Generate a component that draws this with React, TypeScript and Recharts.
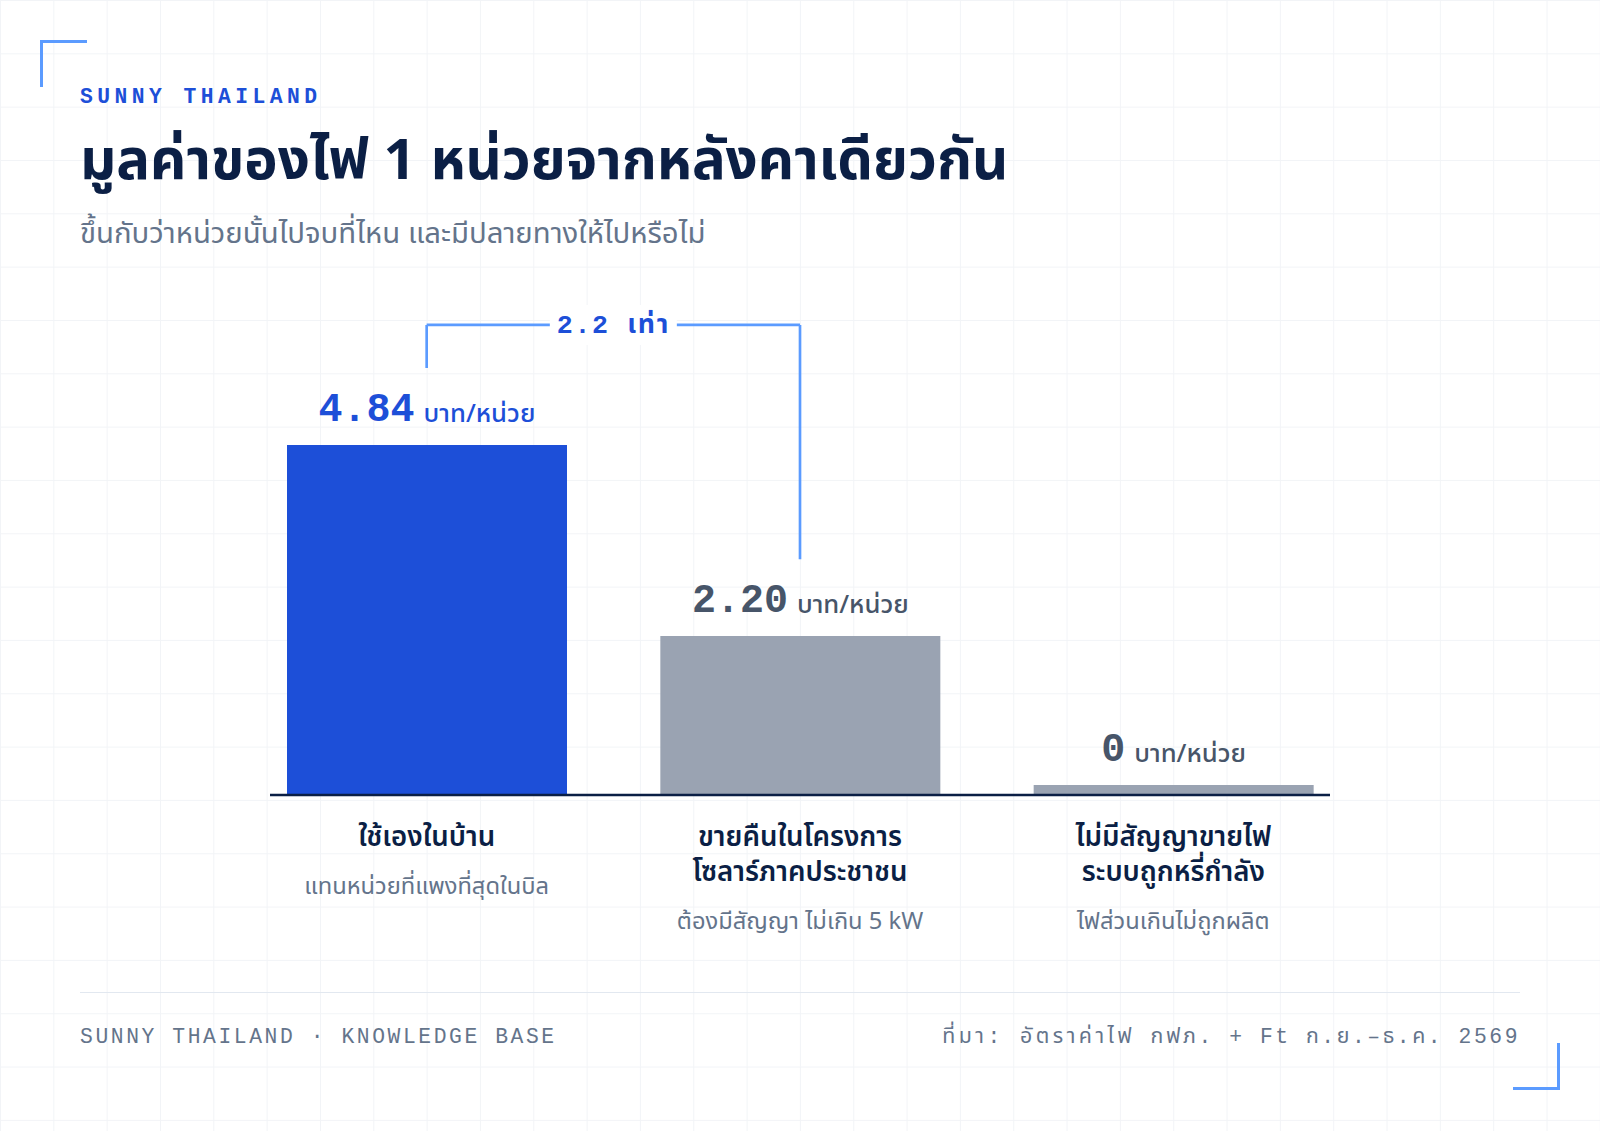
import React from "react";
import { BarChart, Bar, XAxis, YAxis, Cell, LabelList, ReferenceLine } from "recharts";

const categories = ["self", "sell", "none"];
const categoryTitles = [
  ["ใช้เองในบ้าน"],
  ["ขายคืนในโครงการ", "โซลาร์ภาคประชาชน"],
  ["ไม่มีสัญญาขายไฟ", "ระบบถูกหรี่กำลัง"],
];
const categoryNotes = ["แทนหน่วยที่แพงที่สุดในบิล", "ต้องมีสัญญา ไม่เกิน 5 kW", "ไฟส่วนเกินไม่ถูกผลิต"];
const values = [4.84, 2.2, 0];
const valueLabels = ["4.84", "2.20", "0"];
const unitLabel = "บาท/หน่วย";
const barColors = ["#1d4fd8", "#9aa3b2", "#9aa3b2"];
const labelColors = ["#1d4fd8", "#475569", "#475569"];
const zeroStub = 0.14;
const bracketTop = 6.5;
const bracketLeftEnd = 5.905;
const bracketRightEnd = 3.26;
const ratioLabel = "2.2 เท่า";

const THAI = '"Noto Sans Thai", "Noto Sans", "Noto Sans CJK SC", sans-serif';
const MONO = '"Liberation Mono", "Noto Sans Thai", "Noto Sans", monospace';
const NAVY = "#0b1f45";
const ACCENT = "#5b9bff";
const BLUE = "#1d4fd8";
const GREY = "#64748b";

const data = categories.map((c, i) => ({ category: c, value: values[i], shown: values[i] === 0 ? zeroStub : values[i] }));

const abs = (s: React.CSSProperties): React.CSSProperties => ({ position: "absolute", whiteSpace: "nowrap", margin: 0, ...s });

function CategoryTick({ x, payload }: any) {
  const i = categories.indexOf(payload.value);
  const lines = categoryTitles[i];
  const base = 845.5;
  return (
    <g>
      {lines.map((l, k) => (
        <text key={k} x={x} y={base + k * 35} textAnchor="middle" fontFamily={THAI} fontSize={27.6} fontWeight={600} fill={NAVY}>
          {l}
        </text>
      ))}
      <text x={x} y={base + (lines.length - 1) * 35 + 48.5} textAnchor="middle" fontFamily={THAI} fontSize={23.7} fill={GREY}>
        {categoryNotes[i]}
      </text>
    </g>
  );
}

function ValueLabel({ x, y, width, index }: any) {
  return (
    <text x={x + width / 2} y={y - 24} textAnchor="middle" fill={labelColors[index]}>
      <tspan fontFamily={MONO} fontSize={40} fontWeight={700}>{valueLabels[index]}</tspan>
      <tspan dx={9} dy={1} fontFamily={THAI} fontSize={25.7} fontWeight={500}>{unitLabel}</tspan>
    </text>
  );
}

function RatioLabel({ viewBox }: any) {
  const cx = viewBox.x + viewBox.width / 2;
  const cy = viewBox.y + viewBox.height / 2;
  return (
    <g>
      <rect x={cx - 63.5} y={cy - 20} width={127} height={40} fill="#ffffff" />
      <text x={cx} y={cy + 8} textAnchor="middle" fontFamily={MONO} fontSize={26.67} fontWeight={700} letterSpacing={1.6} fill={BLUE}>
        {ratioLabel}
      </text>
    </g>
  );
}

export default function App() {
  return (
    <div
      style={{
        position: "absolute", left: 0, top: 0, width: 1600, height: 1131, overflow: "hidden", background: "#fff",
        backgroundImage: "linear-gradient(#f2f4f7 1.33px, transparent 1.33px), linear-gradient(90deg, #f2f4f7 1.33px, transparent 1.33px)",
        backgroundSize: "53.33px 53.33px",
      }}
    >
      <div style={abs({ left: 40, top: 40, width: 46.67, height: 46.67, boxSizing: "border-box", borderTop: `3px solid ${ACCENT}`, borderLeft: `3px solid ${ACCENT}` })} />
      <div style={abs({ left: 1513.33, top: 1043.33, width: 46.67, height: 46.67, boxSizing: "border-box", borderBottom: `3px solid ${ACCENT}`, borderRight: `3px solid ${ACCENT}` })} />
      <div style={abs({ left: 80, top: 82, fontFamily: MONO, fontWeight: 700, fontSize: 21.33, lineHeight: "30px", letterSpacing: 4.45, color: BLUE })}>SUNNY THAILAND</div>
      <div style={abs({ left: 80, top: 125.5, fontFamily: THAI, fontWeight: 700, fontSize: 56.3, lineHeight: "72px", color: NAVY })}>มูลค่าของไฟ 1 หน่วยจากหลังคาเดียวกัน</div>
      <div style={abs({ left: 80, top: 214, fontFamily: THAI, fontWeight: 400, fontSize: 29.33, lineHeight: "40px", color: GREY })}>ขึ้นกับว่าหน่วยนั้นไปจบที่ไหน และมีปลายทางให้ไปหรือไม่</div>

      <div style={abs({ left: 0, top: 0 })}>
        <BarChart width={1600} height={1131} data={data} margin={{ top: 288.8, left: 270, right: 270, bottom: 186 }} barCategoryGap={0}>
          <YAxis hide type="number" domain={[0, 7]} />
          <XAxis
            dataKey="category"
            height={150}
            padding={{ left: -30, right: -30 }}
            axisLine={{ stroke: NAVY, strokeWidth: 2.67 }}
            tickLine={false}
            interval={0}
            tick={<CategoryTick />}
          />
          <ReferenceLine segment={[{ x: categories[0], y: bracketLeftEnd }, { x: categories[0], y: bracketTop }]} stroke={ACCENT} strokeWidth={2.67} />
          <ReferenceLine segment={[{ x: categories[1], y: bracketRightEnd }, { x: categories[1], y: bracketTop }]} stroke={ACCENT} strokeWidth={2.67} />
          <ReferenceLine
            segment={[{ x: categories[0], y: bracketTop }, { x: categories[1], y: bracketTop }]}
            stroke={ACCENT}
            strokeWidth={2.67}
            label={<RatioLabel />}
          />
          <Bar dataKey="shown" barSize={280} isAnimationActive={false}>
            {data.map((d, i) => (
              <Cell key={d.category} fill={barColors[i]} />
            ))}
            <LabelList dataKey="value" content={<ValueLabel />} />
          </Bar>
        </BarChart>
      </div>

      <div style={abs({ left: 80, top: 991.5, width: 1440, height: 1.33, background: "#e2e8f0" })} />
      <div style={abs({ left: 80, top: 1021, fontFamily: MONO, fontSize: 21.33, lineHeight: "32px", letterSpacing: 2.58, color: GREY })}>SUNNY THAILAND · KNOWLEDGE BASE</div>
      <div style={abs({ right: 80, top: 1021, fontFamily: MONO, fontSize: 21.33, lineHeight: "32px", letterSpacing: 2.56, color: GREY })}>
        <span style={{ letterSpacing: 3.5 }}>ที่มา: อัตราค่าไฟ</span> กฟภ. + Ft ก.ย.–ธ.ค. 2569
      </div>
    </div>
  );
}
